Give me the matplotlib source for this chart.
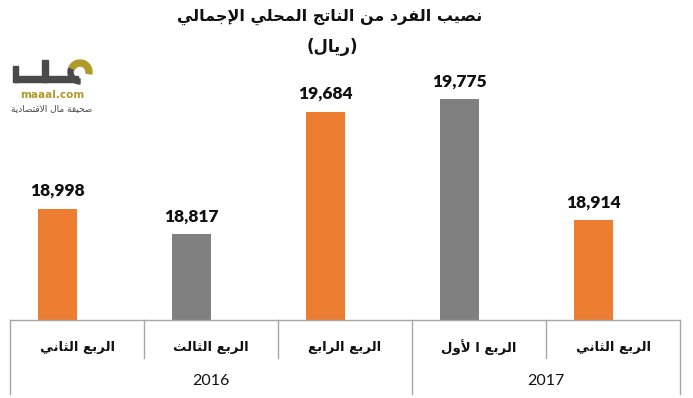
import matplotlib
matplotlib.use("Agg")
import matplotlib.pyplot as plt
import matplotlib.transforms as mtransforms
from matplotlib.patches import Rectangle, Wedge

# ---------------- data ----------------
title = "نصيب الفرد من الناتج المحلي الإجمالي"
unit = "(ريال)"
quarters = ["الربع الثاني", "الربع الثالث", "الربع الرابع", "الربع ا لأول", "الربع الثاني"]
years = ["2016", "2017"]
year_spans = [3, 2]
values = [18998, 18817, 19684, 19775, 18914]
bar_colors = ["#ED7D31", "#808080", "#ED7D31", "#808080", "#ED7D31"]

# ---------------- minimal Arabic shaping ----------------
FORMS = {
    'ء': ('\uFE80', None, None, None),
    'آ': ('\uFE81', '\uFE82', None, None),
    'أ': ('\uFE83', '\uFE84', None, None),
    'إ': ('\uFE87', '\uFE88', None, None),
    'ا': ('\uFE8D', '\uFE8E', None, None),
    'ب': ('\uFE8F', '\uFE90', '\uFE91', '\uFE92'),
    'ة': ('\uFE93', '\uFE94', None, None),
    'ت': ('\uFE95', '\uFE96', '\uFE97', '\uFE98'),
    'ث': ('\uFE99', '\uFE9A', '\uFE9B', '\uFE9C'),
    'ج': ('\uFE9D', '\uFE9E', '\uFE9F', '\uFEA0'),
    'ح': ('\uFEA1', '\uFEA2', '\uFEA3', '\uFEA4'),
    'خ': ('\uFEA5', '\uFEA6', '\uFEA7', '\uFEA8'),
    'د': ('\uFEA9', '\uFEAA', None, None),
    'ذ': ('\uFEAB', '\uFEAC', None, None),
    'ر': ('\uFEAD', '\uFEAE', None, None),
    'ز': ('\uFEAF', '\uFEB0', None, None),
    'س': ('\uFEB1', '\uFEB2', '\uFEB3', '\uFEB4'),
    'ش': ('\uFEB5', '\uFEB6', '\uFEB7', '\uFEB8'),
    'ص': ('\uFEB9', '\uFEBA', '\uFEBB', '\uFEBC'),
    'ض': ('\uFEBD', '\uFEBE', '\uFEBF', '\uFEC0'),
    'ط': ('\uFEC1', '\uFEC2', '\uFEC3', '\uFEC4'),
    'ظ': ('\uFEC5', '\uFEC6', '\uFEC7', '\uFEC8'),
    'ع': ('\uFEC9', '\uFECA', '\uFECB', '\uFECC'),
    'غ': ('\uFECD', '\uFECE', '\uFECF', '\uFED0'),
    'ف': ('\uFED1', '\uFED2', '\uFED3', '\uFED4'),
    'ق': ('\uFED5', '\uFED6', '\uFED7', '\uFED8'),
    'ك': ('\uFED9', '\uFEDA', '\uFEDB', '\uFEDC'),
    'ل': ('\uFEDD', '\uFEDE', '\uFEDF', '\uFEE0'),
    'م': ('\uFEE1', '\uFEE2', '\uFEE3', '\uFEE4'),
    'ن': ('\uFEE5', '\uFEE6', '\uFEE7', '\uFEE8'),
    'ه': ('\uFEE9', '\uFEEA', '\uFEEB', '\uFEEC'),
    'و': ('\uFEED', '\uFEEE', None, None),
    'ى': ('\uFEEF', '\uFEF0', None, None),
    'ي': ('\uFEF1', '\uFEF2', '\uFEF3', '\uFEF4'),
}
LAMALEF = {'آ': ('\uFEF5', '\uFEF6'), 'أ': ('\uFEF7', '\uFEF8'),
           'إ': ('\uFEF9', '\uFEFA'), 'ا': ('\uFEFB', '\uFEFC')}


def _joins_left(c):
    return c in FORMS and FORMS[c][2] is not None


def shape(text):
    res = []
    n = len(text)
    i = 0
    while i < n:
        c = text[i]
        if c not in FORMS:
            res.append(c)
            i += 1
            continue
        prev = text[i - 1] if i > 0 else None
        prev_j = prev is not None and _joins_left(prev)
        if c == 'ل' and i + 1 < n and text[i + 1] in LAMALEF:
            iso, fin = LAMALEF[text[i + 1]]
            res.append(fin if prev_j else iso)
            i += 2
            continue
        nxt = text[i + 1] if i + 1 < n else None
        next_j = nxt is not None and nxt in FORMS and _joins_left(c)
        iso, fin, ini, med = FORMS[c]
        if prev_j and next_j:
            res.append(med)
        elif prev_j:
            res.append(fin)
        elif next_j:
            res.append(ini)
        else:
            res.append(iso)
        i += 1
    return ''.join(res)


def ar(text):
    s = shape(text)[::-1]
    return s.translate(str.maketrans('()', ')('))


# ---------------- figure ----------------
W, H = 693, 398
fig = plt.figure(figsize=(W / 100, H / 100), dpi=100)
fig.patch.set_facecolor("white")

AR_FONT = ["DejaVu Sans"]
NUM_FONT = ["Lato", "DejaVu Sans"]

ax_left, ax_right = 10 / W, 680 / W
ax_bottom, ax_top = (H - 320) / H, (H - 10) / H
ax = fig.add_axes([ax_left, ax_bottom, ax_right - ax_left, ax_top - ax_bottom])
ax.patch.set_visible(False)

n = len(values)
x = list(range(n))
offset = -0.145
bw = 0.285
bars = ax.bar([xi + offset for xi in x], values, width=bw, color=bar_colors, zorder=2)
ax.set_xlim(-0.5, n - 0.5)
ax.set_ylim(18207, 20407)
for s in ax.spines.values():
    s.set_visible(False)
ax.set_xticks([])
ax.set_yticks([])

for b, v in zip(bars, values):
    ax.annotate(f"{v:,}", (b.get_x() + b.get_width() / 2, v), xytext=(0, 7),
                textcoords="offset points", ha="center", va="bottom",
                fontsize=12.5, fontweight="heavy", family=NUM_FONT, color="#111111")

# ---------------- category table below ----------------
tr = mtransforms.blended_transform_factory(ax.transData, fig.transFigure)
line_col = "#a6a6a6"
y_base = (H - 320) / H
y_short = (H - 358) / H
y_long = (H - 394) / H
ax.plot([-0.5, n - 0.5], [y_base, y_base], transform=tr, color=line_col, lw=1, clip_on=False)
group_edges = [-0.5]
acc = -0.5
for s in year_spans:
    acc += s
    group_edges.append(acc)
for k in range(n + 1):
    xb = k - 0.5
    yb = y_long if xb in group_edges else y_short
    ax.plot([xb, xb], [y_base, yb], transform=tr, color=line_col, lw=1, clip_on=False)

for xi, q in zip(x, quarters):
    ax.text(xi, (H - 347) / H, ar(q), transform=tr, ha="center", va="center",
            fontsize=9.5, fontweight="bold", family=AR_FONT, color="#111111")

start = -0.5
for yr, s in zip(years, year_spans):
    ax.text(start + s / 2, (H - 381) / H, yr, transform=tr, ha="center", va="center",
            fontsize=11.5, family=NUM_FONT, color="#111111")
    start += s

# ---------------- titles ----------------
fig.text(330 / W, 1 - 17 / H, ar(title), ha="center", va="center", fontsize=11.5,
         fontweight="bold", family=AR_FONT, color="#111111")
fig.text(332 / W, 1 - 47 / H, ar(unit), ha="center", va="center", fontsize=12,
         fontweight="bold", family=AR_FONT, color="#111111")

# ---------------- logo (decoration) ----------------
lg = fig.add_axes([0, 0, 1, 1], zorder=5)
lg.patch.set_visible(False)
lg.set_xlim(0, W)
lg.set_ylim(H, 0)
lg.axis("off")
dark = "#4a4a4a"
gold = "#b09a2a"
lg.add_patch(Rectangle((14, 76), 64, 6, color=dark))
lg.add_patch(Rectangle((42, 60), 6, 22, color=dark))
lg.add_patch(Rectangle((13, 66), 5, 16, color=dark))
lg.add_patch(Wedge((80, 72), 12, 90, 200, width=5, color=dark))
lg.add_patch(Wedge((80, 72), 12, 205, 370, width=6, color=gold))
lg.text(52, 95, "maaal.com", ha="center", va="center", fontsize=7.5,
        fontweight="bold", family=["DejaVu Sans"], color=gold)
lg.text(52, 109, ar("صحيفة مال الاقتصادية"), ha="center", va="center", fontsize=6.5,
        family=AR_FONT, color=dark)

fig.savefig("out.png", dpi=100, facecolor="white")
